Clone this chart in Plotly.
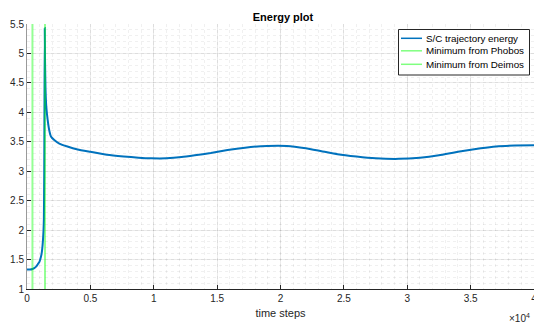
import plotly.graph_objects as go

# Data
time_steps = [0, 250, 430, 600, 720, 850, 980, 1080, 1160, 1220, 1260, 1300, 1330, 1360, 1380, 1400,
              1420, 1460, 1520, 1630, 1750, 1890, 2150, 2550, 3190, 4000, 5010, 6300, 7620, 8800,
              9800, 11000, 12200, 13240, 14500, 15820, 17200, 18950, 20500, 22000, 23240, 24500,
              26000, 27500, 29340, 31000, 32500, 34000, 35800, 37000, 38480, 40000]
energy = [1.33, 1.33, 1.34, 1.36, 1.38, 1.42, 1.46, 1.53, 1.61, 1.72, 1.83, 1.98, 2.17, 3.0, 4.2, 5.43,
          4.9, 4.4, 4.1, 3.87, 3.7, 3.59, 3.53, 3.47, 3.42, 3.37, 3.33, 3.28, 3.25, 3.23,
          3.22, 3.22, 3.24, 3.27, 3.31, 3.36, 3.40, 3.43, 3.43, 3.39, 3.34, 3.29,
          3.25, 3.22, 3.21, 3.23, 3.27, 3.33, 3.39, 3.42, 3.435, 3.44]
phobos_min = 430
deimos_min = 1420
y_limits = [1, 5.5]
x_tick_vals = [0, 5000, 10000, 15000, 20000, 25000, 30000, 35000, 40000]
x_tick_text = ["0", "0.5", "1", "1.5", "2", "2.5", "3", "3.5", "4"]
y_tick_vals = [1, 1.5, 2, 2.5, 3, 3.5, 4, 4.5, 5, 5.5]
y_tick_text = ["1", "1.5", "2", "2.5", "3", "3.5", "4", "4.5", "5", "5.5"]
legend_names = ["S/C trajectory energy", "Minimum from Phobos", "Minimum from Deimos"]

FONT = "Liberation Sans, Arial, sans-serif"
DARK = "#262626"
BLUE = "#0072BD"
GREEN = "rgba(0,255,0,0.42)"
W, H = 534, 324
ML, MR, MT, MB = 27, 0, 24, 35
PW, PH = W - ML - MR, H - MT - MB


def px(xp):
    return (xp - ML) / PW


def py(yp):
    return (H - MB - yp) / PH


fig = go.Figure()
fig.add_trace(go.Scatter(x=time_steps, y=energy, mode="lines", name=legend_names[0],
                         line=dict(color=BLUE, width=2, shape="spline", smoothing=0.4)))
fig.add_trace(go.Scatter(x=[phobos_min, phobos_min], y=y_limits, mode="lines", name=legend_names[1],
                         line=dict(color=GREEN, width=2)))
fig.add_trace(go.Scatter(x=[deimos_min, deimos_min], y=y_limits, mode="lines", name=legend_names[2],
                         line=dict(color=GREEN, width=2)))

fig.update_layout(
    width=W, height=H,
    margin=dict(l=ML, r=MR, t=MT, b=MB),
    paper_bgcolor="white", plot_bgcolor="white",
    font=dict(family=FONT, size=10, color=DARK),
    title=dict(text="<b>Energy plot</b>", x=0.53, xanchor="center", y=0.947, yanchor="middle",
               font=dict(family=FONT, size=11, color="black")),
    showlegend=False,
    xaxis=dict(range=[0, 40000], tickmode="array", tickvals=x_tick_vals, ticktext=x_tick_text,
               ticks="inside", ticklen=4, tickcolor=DARK, showline=True, linecolor=DARK, linewidth=1,
               showgrid=True, gridcolor="rgba(0,0,0,0.08)", gridwidth=1, zeroline=False,
               minor=dict(dtick=1000, showgrid=True, gridcolor="rgba(0,0,0,0.06)", griddash="dot", ticks=""),
               automargin=False, ticklabeloverflow="allow",
               title=dict(text="time steps", standoff=6, font=dict(family=FONT, size=11, color=DARK))),
    yaxis=dict(range=y_limits, tickmode="array", tickvals=y_tick_vals, ticktext=y_tick_text,
               ticks="inside", ticklen=4, tickcolor=DARK, showline=True, linecolor="#9a9a9a", linewidth=1,
               showgrid=True, gridcolor="rgba(0,0,0,0.08)", gridwidth=1, zeroline=False,
               minor=dict(dtick=0.1, showgrid=True, gridcolor="rgba(0,0,0,0.06)", griddash="dot", ticks=""),
               automargin=False),
)

# Legend drawn as box + sample lines + labels (MATLAB-style compact legend)
fig.add_shape(type="rect", xref="paper", yref="paper", x0=px(398.5), x1=px(529.5), y0=py(75), y1=py(29.5),
              line=dict(color=DARK, width=1), fillcolor="white", layer="above")
legend_colors = [BLUE, "rgba(0,255,0,0.5)", "rgba(0,255,0,0.5)"]
legend_rows = [38.3, 50.8, 64.3]
for name, col, yr in zip(legend_names, legend_colors, legend_rows):
    fig.add_shape(type="line", xref="paper", yref="paper", x0=px(401), x1=px(422), y0=py(yr), y1=py(yr),
                  line=dict(color=col, width=1.5), layer="above")
    fig.add_annotation(text=name, xref="paper", yref="paper", x=px(423.5), y=py(yr),
                       xanchor="left", yanchor="middle", showarrow=False,
                       font=dict(family=FONT, size=9.8, color="black"))

fig.add_annotation(text="×10<sup>4</sup>", xref="paper", yref="paper", x=px(532), y=-0.08,
                   xanchor="right", yanchor="top", showarrow=False,
                   font=dict(family=FONT, size=10, color=DARK))

fig.write_html("out.html")
